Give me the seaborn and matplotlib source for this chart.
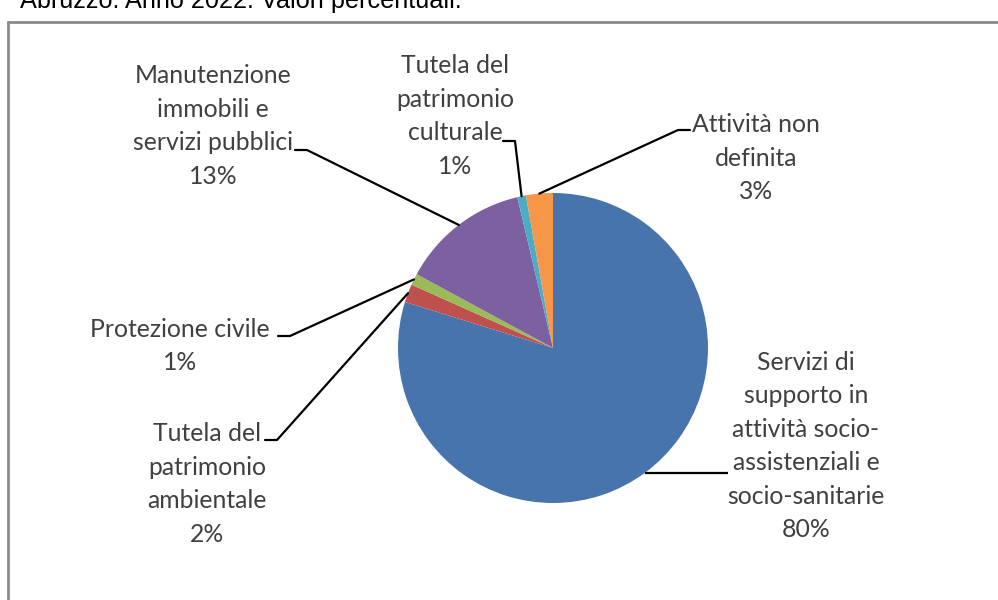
# Pie chart: volunteer activity areas, Abruzzo 2022 (percent values)

import numpy as np
import matplotlib.pyplot as plt
import seaborn as sns

sns.set_theme(style="white")
plt.rcParams['font.family'] = ['Lato', 'DejaVu Sans']

# Data (clockwise from the top)
categories = [
    "Servizi di\nsupporto in\nattività socio-\nassistenziali e\nsocio-sanitarie",
    "Tutela del\npatrimonio\nambientale",
    "Protezione civile",
    "Manutenzione\nimmobili e\nservizi pubblici",
    "Tutela del\npatrimonio\nculturale",
    "Attività non\ndefinita",
]
values = [79.8, 1.9, 1.2, 13.4, 0.9, 2.8]
colors = ["#4874AD", "#C0504D", "#9BBB59", "#7D60A0", "#4BACC6", "#F79646"]

# label block centres and leader elbows, in pixel coords (y down)
label_pos = [(806, 446), (207, 484), (180, 346), (213, 126), (455, 116), (756, 158)]
elbows = [(728, None), (277, 440), (290, 336), (307, 150), (515, 141), (678, 130)]

W, H = 998, 600
cx, cy, r = 553, 348, 155
text_color = "#404040"

fig = plt.figure(figsize=(W / 100, H / 100), dpi=100)
ax = fig.add_axes([0, 0, 1, 1])

# y axis is inverted below, so counterclock=True draws clockwise on screen
wedges, _ = ax.pie(values, colors=colors, startangle=-90, counterclock=True,
                   center=(cx, cy), radius=r, wedgeprops=dict(linewidth=0))

ax.set_xlim(0, W)
ax.set_ylim(H, 0)
ax.set_aspect("auto")
ax.axis("off")

for w, name, val, (tx, ty), (ex, ey) in zip(wedges, categories, values, label_pos, elbows):
    mid = np.deg2rad((w.theta1 + w.theta2) / 2)
    px = cx + r * np.cos(mid)
    py = cy + r * np.sin(mid)
    if ey is None:
        ey = py
        ax.plot([px, ex], [ey, ey], color="black", lw=1.6, solid_capstyle="butt")
    else:
        # short horizontal tick next to text, then diagonal to wedge
        tick = 12 if ex < px else -12
        ax.plot([ex - tick, ex, px], [ey, ey, py], color="black", lw=1.6)
    ax.text(tx, ty, f"{name}\n{val:.0f}%", ha="center", va="center",
            fontsize=17.8, color=text_color, linespacing=1.55)

# chart frame (only top and left edges visible in the crop)
ax.plot([8, W + 5], [22, 22], color="#8a8a8a", lw=2, clip_on=False)
ax.plot([8, 8], [22, H + 5], color="#8a8a8a", lw=2, clip_on=False)

# title, cut off by the top of the image as in the source
fig.text(20 / W, 1 - 8 / H, "Abruzzo. Anno 2022. Valori percentuali.",
         fontsize=18.2, color="black", va="baseline", ha="left",
         family=["Liberation Sans", "DejaVu Sans"])

plt.savefig("out.png", dpi=100)
plt.close()
